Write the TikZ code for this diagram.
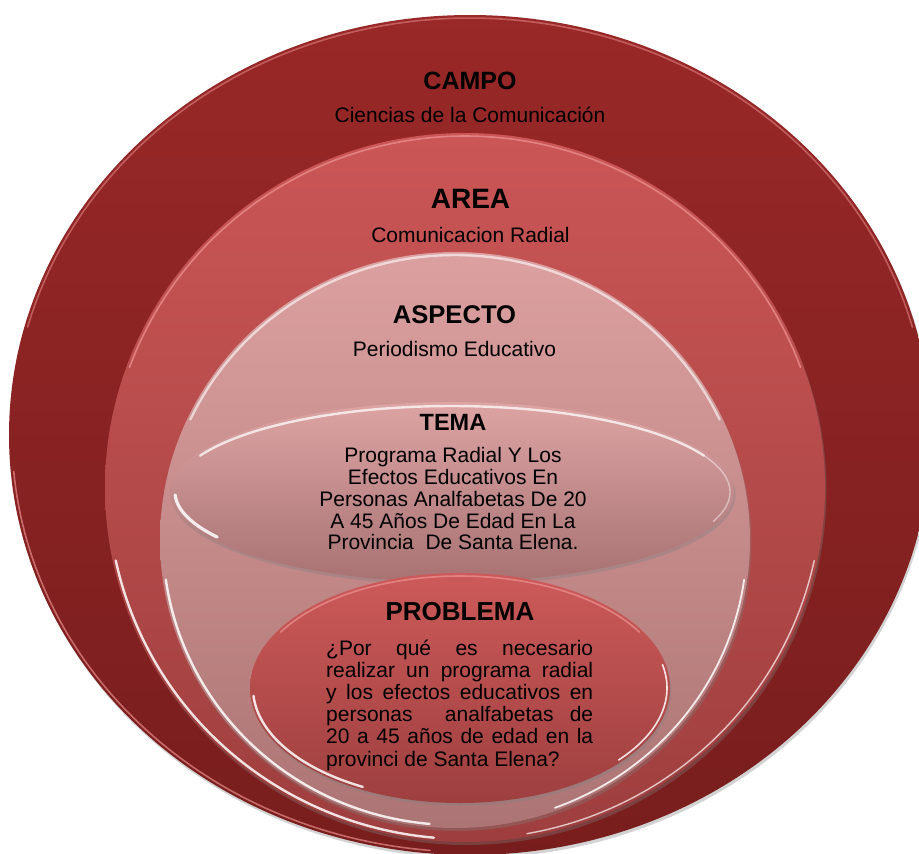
\documentclass[tikz,border=0pt]{standalone}
\usepackage{fontspec}
\setmainfont{Liberation Sans}
\usetikzlibrary{shapes.geometric,shadows}
\definecolor{campoT}{HTML}{992828}
\definecolor{campoB}{HTML}{781D1D}
\definecolor{areaT}{HTML}{CB5656}
\definecolor{areaB}{HTML}{9E3E3E}
\definecolor{aspT}{HTML}{DCA0A0}
\definecolor{aspB}{HTML}{AC7474}
\definecolor{temaT}{HTML}{DDA4A4}
\definecolor{temaB}{HTML}{A87272}
\definecolor{probT}{HTML}{CD5A5A}
\definecolor{probB}{HTML}{9E3F3F}
\definecolor{rimA}{HTML}{E88A8A}
% \glossarc[style]{cx}{cy}{rx}{ry}{start}{end}; angles: 0 right, 90 bottom, 180 left, 270 top
\newcommand{\glossarc}[7][]{\draw[#1] plot[domain=#6:#7, samples=90] ({#2+#4*cos(\x)},{#3+#5*sin(\x)});}
\tikzset{
  disc/.style={ellipse, inner sep=0pt, outer sep=0pt, draw=none,
    drop shadow={shadow xshift=1.5pt, shadow yshift=-3pt, opacity=0.35}},
  ttl/.style={font=\bfseries\fontsize{#1}{#1}\selectfont, anchor=base, inner sep=0pt},
  txt/.style={font=\fontsize{21}{21}\selectfont, anchor=base, inner sep=0pt},
  rim/.style={rimA, line width=1.6pt, opacity=0.55, line cap=round},
  glare/.style={white, line width=2.4pt, opacity=0.85, line cap=round},
}
\begin{document}
\begin{tikzpicture}[x=1pt,y=-1pt]
\useasboundingbox (0,0) rectangle (919,854);
\begin{scope}
\clip (0,0) rectangle (919,854);
% CAMPO
\node[disc, minimum width=922pt, minimum height=840pt, top color=campoT, bottom color=campoB] (campo) at (470,435) {};
\glossarc[rim]{470}{435}{458}{417}{195}{345}
\glossarc[rim, opacity=0.7]{470}{435}{458}{417}{95}{175}
% AREA
\node[disc, minimum width=720pt, minimum height=709pt, top color=areaT, bottom color=areaB] (area) at (465,487.5) {};
\glossarc[rim, opacity=0.85]{465}{487.5}{357}{351.5}{200}{340}
\glossarc[glare]{465}{487.5}{357}{351.5}{95}{168}
\glossarc[glare, line width=1.4pt, opacity=0.7]{465}{487.5}{357}{351.5}{12}{80}
% ASPECTO
\node[disc, minimum width=590pt, minimum height=576pt, top color=aspT, bottom color=aspB] (aspecto) at (455,540) {};
\glossarc[glare, opacity=0.6]{455}{540}{292}{285}{205}{335}
\glossarc[glare]{455}{540}{292}{285}{95}{172}
\glossarc[glare, line width=1.8pt]{455}{540}{292}{285}{8}{70}
% TEMA
\node[disc, minimum width=564pt, minimum height=180pt, top color=temaT, bottom color=temaB] (tema) at (452,492) {};
\glossarc[glare, opacity=0.75]{452}{492}{278}{86}{205}{335}
\glossarc[glare, line width=3.2pt]{452}{492}{277}{85}{148}{178}
\glossarc[glare, line width=1.4pt, opacity=0.45]{452}{492}{278}{86}{-25}{20}
% PROBLEMA
\node[disc, minimum width=420pt, minimum height=230pt, top color=probT, bottom color=probB] (problema) at (460,688) {};
\glossarc[rim, opacity=0.85]{460}{688}{207}{112}{210}{330}
\glossarc[glare]{460}{688}{207}{112}{118}{176}
\glossarc[glare, line width=1.6pt]{460}{688}{207}{112}{-12}{40}
\end{scope}
% texts
\node[ttl=25] (tCampo) at (470,89) {CAMPO};
\node[txt] (sCampo) at (470,122.7) {Ciencias de la Comunicación};
\node[ttl=28] (tArea) at (470.5,208) {AREA};
\node[txt] (sArea) at (470.5,242.7) {Comunicacion Radial};
\node[ttl=25.6] (tAsp) at (454.5,323) {ASPECTO};
\node[txt] (sAsp) at (454.5,356.7) {Periodismo Educativo};
\node[ttl=23.5] (tTema) at (453,430) {TEMA};
\node[txt] (tl1) at (453,462.7) {Programa Radial Y Los};
\node[txt] (tl2) at (453,484.4) {Efectos Educativos En};
\node[txt] (tl3) at (453,506.2) {Personas Analfabetas De 20};
\node[txt] (tl4) at (453,528.1) {A 45 Años De Edad En La};
\node[txt] (tl5) at (453,549.9) {Provincia\ \ De Santa Elena.};
\node[ttl=26] (tProb) at (460,620.5) {PROBLEMA};
\node[txt, anchor=base west] (pl1) at (326,655) {\makebox[267pt][s]{¿Por qué es necesario}};
\node[txt, anchor=base west] (pl2) at (326,677.2) {\makebox[267pt][s]{realizar un programa radial}};
\node[txt, anchor=base west] (pl3) at (326,699.4) {\makebox[267pt][s]{y los efectos educativos en}};
\node[txt, anchor=base west] (pl4) at (326,721.6) {\makebox[267pt][s]{personas\ \ analfabetas de}};
\node[txt, anchor=base west] (pl5) at (326,743.8) {\makebox[267pt][s]{20 a 45 años de edad en la}};
\node[txt, anchor=base west] (pl6) at (326,766) {\makebox[267pt][l]{provinci de Santa Elena?}};
\end{tikzpicture}
\end{document}
